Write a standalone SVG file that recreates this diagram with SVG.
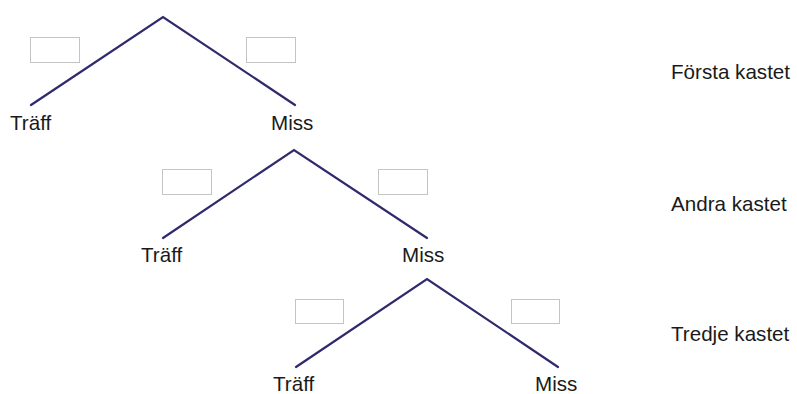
<svg xmlns="http://www.w3.org/2000/svg" width="797" height="394" viewBox="0 0 797 394">
<style>
.edge{fill:none;stroke:#2f2a6e;stroke-width:2.2;stroke-linecap:round;stroke-linejoin:miter}
.box{fill:#ffffff;stroke:#c4c4c4;stroke-width:1}
.t{font-family:"Liberation Sans",Arial,sans-serif;font-size:20.6px;fill:#1a1a1a}
</style>
<rect width="797" height="394" fill="#ffffff"/>
<g id="connectors">
<polyline class="edge" points="31,105 163,17 295,105"/>
<polyline class="edge" points="163,238 294,150 427,238"/>
<polyline class="edge" points="296,367 427,279 558,367"/>
</g>
<g id="box1L"><rect class="box" x="30.5" y="37.5" width="49" height="25"/></g>
<g id="box1R"><rect class="box" x="246.5" y="37.5" width="49" height="25"/></g>
<g id="box2L"><rect class="box" x="162.5" y="169.5" width="49" height="25"/></g>
<g id="box2R"><rect class="box" x="378.5" y="169.5" width="49" height="25"/></g>
<g id="box3L"><rect class="box" x="295.5" y="299.5" width="48" height="24"/></g>
<g id="box3R"><rect class="box" x="511.5" y="299.5" width="48" height="24"/></g>
<g id="n1L"><text class="t" x="10" y="130">Träff</text></g>
<g id="n1R"><text class="t" x="271" y="130">Miss</text></g>
<g id="n2L"><text class="t" x="141" y="262">Träff</text></g>
<g id="n2R"><text class="t" x="402" y="262">Miss</text></g>
<g id="n3L"><text class="t" x="273" y="391">Träff</text></g>
<g id="n3R"><text class="t" x="535" y="391">Miss</text></g>
<g id="lab1"><text class="t" x="671" y="79">Första kastet</text></g>
<g id="lab2"><text class="t" x="671" y="211">Andra kastet</text></g>
<g id="lab3"><text class="t" x="671" y="341">Tredje kastet</text></g>
</svg>
